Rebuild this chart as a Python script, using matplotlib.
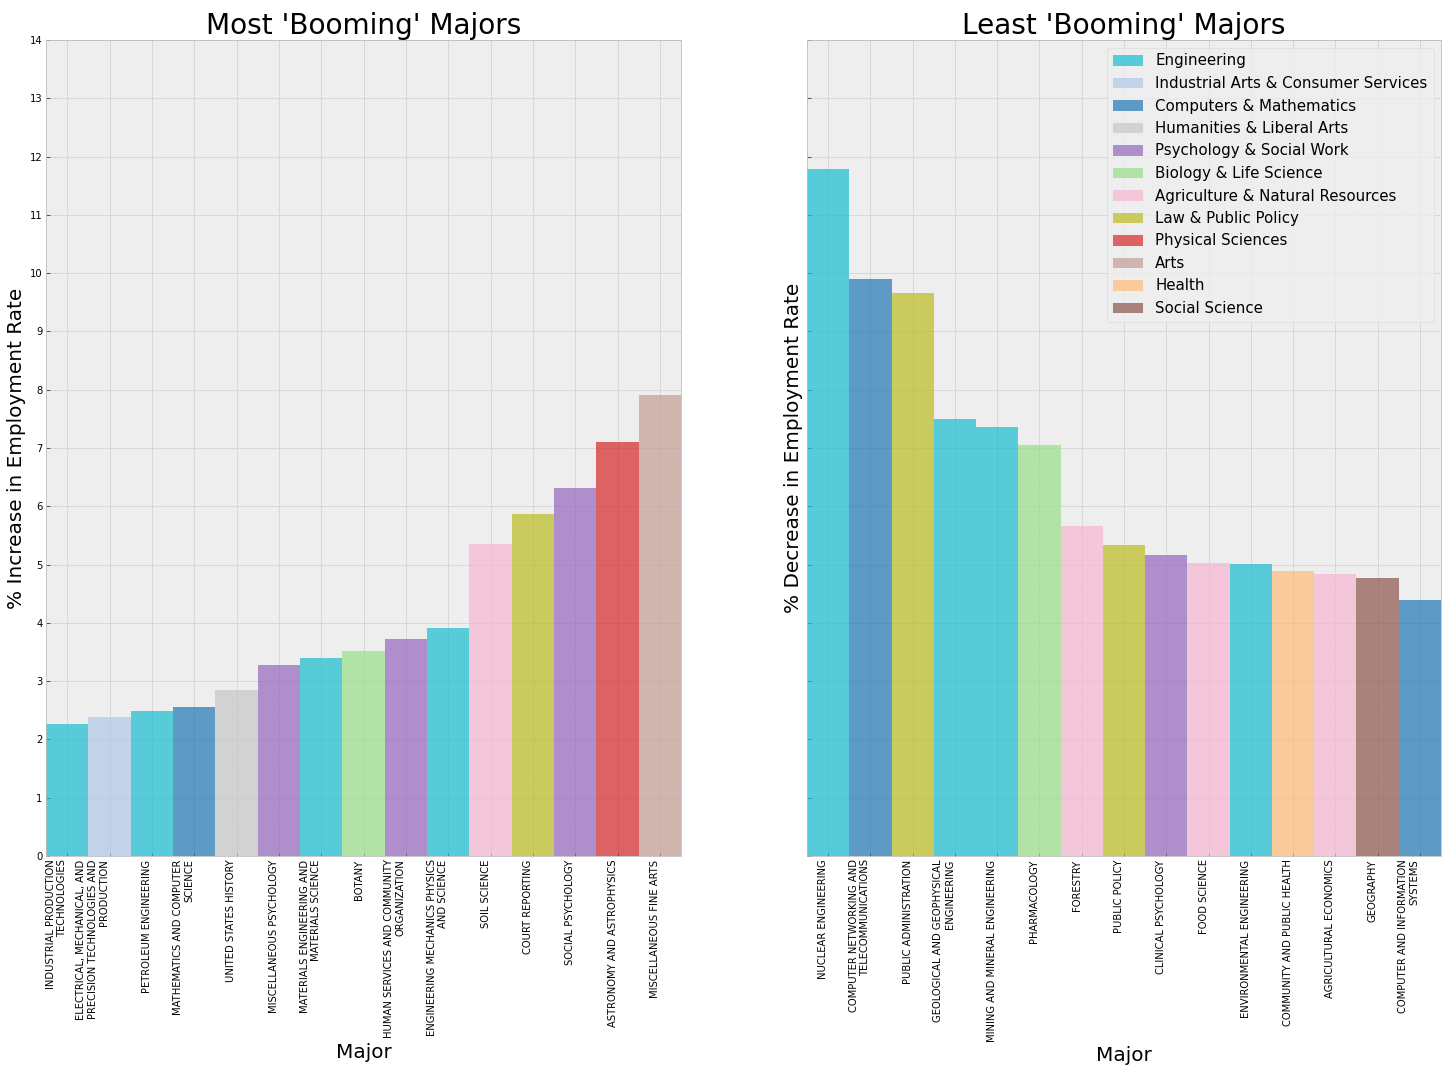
import textwrap
import matplotlib
matplotlib.use("Agg")
import matplotlib.pyplot as plt
from matplotlib.patches import Patch

# ---- data ----
most_majors = [
    "INDUSTRIAL PRODUCTION TECHNOLOGIES",
    "ELECTRICAL, MECHANICAL, AND PRECISION TECHNOLOGIES AND PRODUCTION",
    "PETROLEUM ENGINEERING",
    "MATHEMATICS AND COMPUTER SCIENCE",
    "UNITED STATES HISTORY",
    "MISCELLANEOUS PSYCHOLOGY",
    "MATERIALS ENGINEERING AND MATERIALS SCIENCE",
    "BOTANY",
    "HUMAN SERVICES AND COMMUNITY ORGANIZATION",
    "ENGINEERING MECHANICS PHYSICS AND SCIENCE",
    "SOIL SCIENCE",
    "COURT REPORTING",
    "SOCIAL PSYCHOLOGY",
    "ASTRONOMY AND ASTROPHYSICS",
    "MISCELLANEOUS FINE ARTS",
]
most_values = [2.27, 2.39, 2.49, 2.56, 2.85, 3.28, 3.40, 3.52, 3.73, 3.92,
               5.36, 5.87, 6.32, 7.10, 7.91]
most_categories = [
    "Engineering", "Industrial Arts & Consumer Services", "Engineering",
    "Computers & Mathematics", "Humanities & Liberal Arts",
    "Psychology & Social Work", "Engineering", "Biology & Life Science",
    "Psychology & Social Work", "Engineering", "Agriculture & Natural Resources",
    "Law & Public Policy", "Psychology & Social Work", "Physical Sciences", "Arts",
]

least_majors = [
    "NUCLEAR ENGINEERING",
    "COMPUTER NETWORKING AND TELECOMMUNICATIONS",
    "PUBLIC ADMINISTRATION",
    "GEOLOGICAL AND GEOPHYSICAL ENGINEERING",
    "MINING AND MINERAL ENGINEERING",
    "PHARMACOLOGY",
    "FORESTRY",
    "PUBLIC POLICY",
    "CLINICAL PSYCHOLOGY",
    "FOOD SCIENCE",
    "ENVIRONMENTAL ENGINEERING",
    "COMMUNITY AND PUBLIC HEALTH",
    "AGRICULTURAL ECONOMICS",
    "GEOGRAPHY",
    "COMPUTER AND INFORMATION SYSTEMS",
]
least_values = [11.79, 9.90, 9.66, 7.50, 7.36, 7.05, 5.66, 5.34, 5.16, 5.03,
                5.01, 4.89, 4.84, 4.77, 4.39]
least_categories = [
    "Engineering", "Computers & Mathematics", "Law & Public Policy",
    "Engineering", "Engineering", "Biology & Life Science",
    "Agriculture & Natural Resources", "Law & Public Policy",
    "Psychology & Social Work", "Agriculture & Natural Resources",
    "Engineering", "Health", "Agriculture & Natural Resources",
    "Social Science", "Computers & Mathematics",
]

legend_categories = [
    "Engineering", "Industrial Arts & Consumer Services", "Computers & Mathematics",
    "Humanities & Liberal Arts", "Psychology & Social Work", "Biology & Life Science",
    "Agriculture & Natural Resources", "Law & Public Policy", "Physical Sciences",
    "Arts", "Health", "Social Science",
]
category_colors = {
    "Engineering": "#17becf",
    "Industrial Arts & Consumer Services": "#aec7e8",
    "Computers & Mathematics": "#1f77b4",
    "Humanities & Liberal Arts": "#c7c7c7",
    "Psychology & Social Work": "#9467bd",
    "Biology & Life Science": "#98df8a",
    "Agriculture & Natural Resources": "#f7b6d2",
    "Law & Public Policy": "#bcbd22",
    "Physical Sciences": "#d62728",
    "Arts": "#c49c94",
    "Health": "#ffbb78",
    "Social Science": "#8c564b",
}

# ---- style ----
plt.style.use("bmh")
plt.rcParams["font.family"] = ["DejaVu Sans"]

W, H = 1448, 1072
fig = plt.figure(figsize=(W / 72, H / 72), dpi=72)
ax1 = fig.add_axes([46 / W, (H - 856) / H, 635 / W, 816 / H])
ax2 = fig.add_axes([807 / W, (H - 856) / H, 634 / W, 816 / H], sharey=ax1)

ALPHA = 0.7


def draw(ax, majors, values, cats, title, ylabel):
    x = list(range(len(majors)))
    ax.bar(x, values, width=1.0, color=[category_colors[c] for c in cats],
           alpha=ALPHA, linewidth=0)
    ax.set_xlim(-0.5, len(majors) - 0.5)
    ax.set_xticks(x)
    ax.set_xticklabels([textwrap.fill(m, 30) for m in majors], rotation=90,
                       ha="right", fontsize=10)
    ax.set_title(title, fontsize=28, pad=6)
    ax.set_xlabel("Major", fontsize=20)
    ax.set_ylabel(ylabel, fontsize=20)
    ax.grid(True, color="#b2b2b2", linestyle="--", linewidth=0.5)
    ax.set_axisbelow(True)
    ax.tick_params(direction="in", labelsize=10, colors="#333333",
                   labelcolor="black")
    for s in ax.spines.values():
        s.set_color("#bcbcbc")


draw(ax1, most_majors, most_values, most_categories,
     "Most 'Booming' Majors", "% Increase in Employment Rate")
draw(ax2, least_majors, least_values, least_categories,
     "Least 'Booming' Majors", "% Decrease in Employment Rate")

ax1.set_ylim(0, 14)
ax1.set_yticks(range(0, 15))
ax2.tick_params(labelleft=False)

handles = [Patch(facecolor=category_colors[c], alpha=ALPHA, label=c)
           for c in legend_categories]
ax2.legend(handles=handles, loc="upper right", fontsize=15)

fig.savefig("out.png", dpi=72)
